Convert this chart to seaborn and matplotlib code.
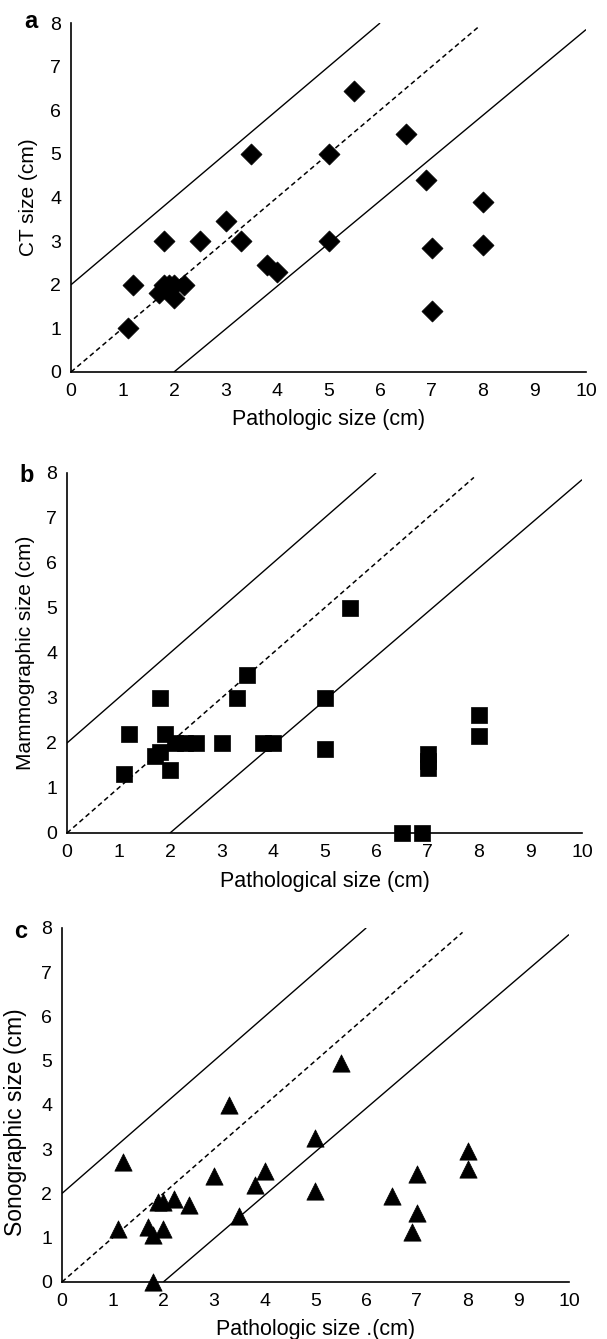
import numpy as np
import pandas as pd
import matplotlib
matplotlib.use("Agg")
import matplotlib.pyplot as plt
import seaborn as sns

sns.set_theme(style="white")
plt.rcParams['font.family'] = ['Liberation Sans', 'DejaVu Sans']

# ---------------- data ----------------
# Panel a: CT vs pathologic size
ct_path = [1.1, 1.2, 1.7, 1.8, 1.8, 1.9, 2.0, 2.2, 2.0, 2.5, 3.0, 3.3, 3.5, 3.8,
           4.0, 5.0, 5.0, 5.5, 6.5, 6.9, 7.0, 7.0, 8.0, 8.0]
ct_size = [1.0, 2.0, 1.8, 3.0, 2.0, 2.0, 2.0, 2.0, 1.7, 3.0, 3.45, 3.0, 5.0, 2.45,
           2.3, 5.0, 3.0, 6.45, 5.45, 4.4, 2.85, 1.4, 3.9, 2.9]

# Panel b: mammographic vs pathological size
mg_path = [1.1, 1.2, 1.8, 1.9, 1.7, 1.8, 2.0, 2.1, 2.3, 2.5, 3.0, 3.3, 3.5, 3.8,
           4.0, 5.0, 5.0, 5.5, 6.5, 6.9, 7.0, 7.0, 7.0, 8.0, 8.0]
mg_size = [1.3, 2.2, 3.0, 2.2, 1.7, 1.8, 1.4, 2.0, 2.0, 2.0, 2.0, 3.0, 3.5, 2.0,
           2.0, 3.0, 1.87, 5.0, 0.0, 0.0, 1.75, 1.6, 1.45, 2.62, 2.15]

# Panel c: sonographic vs pathologic size
us_path = [1.1, 1.2, 1.7, 1.8, 1.8, 1.9, 2.0, 2.0, 2.2, 2.5, 3.0, 3.3, 3.5, 3.8,
           4.0, 5.0, 5.0, 5.5, 6.5, 7.0, 7.0, 6.9, 8.0, 8.0]
us_size = [1.2, 2.7, 1.25, 1.05, 0.0, 1.8, 1.8, 1.2, 1.87, 1.75, 2.4, 4.0, 1.5, 2.2,
           2.5, 3.25, 2.05, 4.95, 1.95, 2.45, 1.55, 1.12, 2.95, 2.55]

# reference lines (+2 cm, identity, -2 cm)
upper_x = [0, 6]
upper_y = [2, 8]
ident_x = [0, 7.9]
ident_y = [0, 7.9]
lower_x = [2, 10]
lower_y = [0, 7.85]

x_ticks = list(range(0, 11))
y_ticks = list(range(0, 9))

panels = [
    dict(letter="a", x=ct_path, y=ct_size, marker="D", s=115,
         xlabel="Pathologic size (cm)", ylabel="CT size (cm)",
         pos=[0.1170, 0.7222, 0.8485, 0.2606], ylab_x=-0.064, ylab_y=0.5, ylab_fs=15,
         letter_xy=(31, 21)),
    dict(letter="b", x=mg_path, y=mg_size, marker="s", s=125,
         xlabel="Pathological size (cm)", ylabel="Mammographic size (cm)",
         pos=[0.1104, 0.3779, 0.8485, 0.2689], ylab_x=-0.062, ylab_y=0.5, ylab_fs=15,
         letter_xy=(27, 476)),
    dict(letter="c", x=us_path, y=us_size, marker="^", s=155,
         xlabel="Pathologic size .(cm)", ylabel="Sonographic size (cm)",
         pos=[0.1021, 0.0426, 0.8353, 0.2644], ylab_x=-0.069, ylab_y=0.45, ylab_fs=16.5,
         letter_xy=(21, 931)),
]

W, H = 607, 1339
fig = plt.figure(figsize=(W / 100, H / 100), dpi=100)
fig.patch.set_facecolor("white")

for p in panels:
    ax = fig.add_axes(p["pos"])
    ax.set_facecolor("white")
    df = pd.DataFrame({"x": p["x"], "y": p["y"]})
    ax.plot(upper_x, upper_y, color="black", lw=1.0, solid_capstyle="butt")
    ax.plot(ident_x, ident_y, color="black", lw=1.1, linestyle=(0, (3.2, 2.2)))
    ax.plot(lower_x, lower_y, color="black", lw=1.0, solid_capstyle="butt")
    sns.scatterplot(data=df, x="x", y="y", marker=p["marker"], s=p["s"],
                    color="black", edgecolor="black", linewidth=0.5, ax=ax,
                    clip_on=False, zorder=5)
    ax.set_xlim(0, 10)
    ax.set_ylim(0, 8)
    ax.set_xticks(x_ticks)
    ax.set_yticks(y_ticks)
    for side in ["top", "right"]:
        ax.spines[side].set_visible(False)
    for side in ["left", "bottom"]:
        ax.spines[side].set_visible(True)
        ax.spines[side].set_color("black")
        ax.spines[side].set_linewidth(1.2)
    ax.tick_params(axis="both", direction="in", length=4, width=1.0, colors="black",
                   labelsize=14)
    ax.tick_params(axis="x", pad=8)
    ax.tick_params(axis="y", pad=7)
    ax.set_xlabel(p["xlabel"], fontsize=15.5, color="black")
    ax.set_ylabel(p["ylabel"], fontsize=p["ylab_fs"], color="black")
    ax.xaxis.set_label_coords(0.5, -0.105)
    ax.yaxis.set_label_coords(p["ylab_x"], p["ylab_y"])
    ax.grid(False)
    lx, ly = p["letter_xy"]
    fig.text(lx / W, 1 - ly / H, p["letter"], fontsize=17, fontweight="bold",
             ha="center", va="center", color="black")

fig.savefig("out.png", dpi=100, facecolor="white")
